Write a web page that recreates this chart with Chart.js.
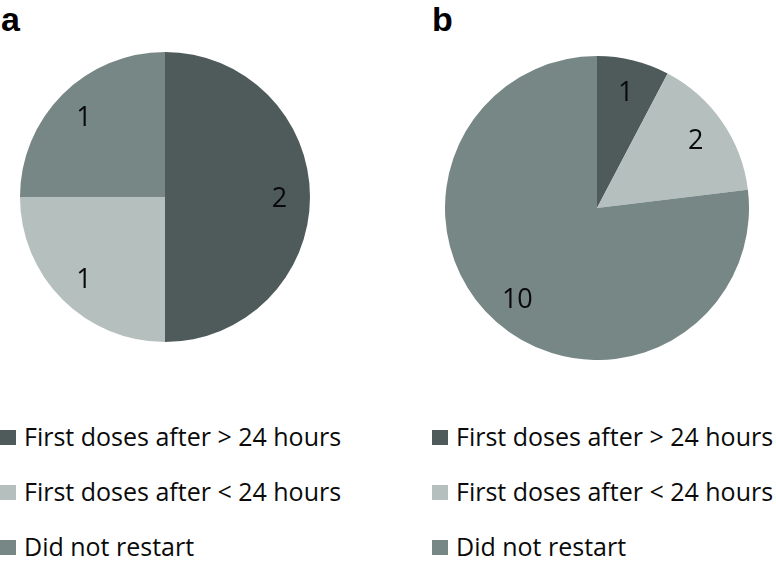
<!DOCTYPE html>
<html>
<head>
<meta charset="utf-8">
<script src="https://cdn.jsdelivr.net/npm/chart.js@4"></script>
<style>
  body { margin: 0; background: #fff; width: 776px; height: 568px; position: relative; overflow: hidden; font-family: "Open Sans", sans-serif; }
  .panel { position: absolute; font-family: "Liberation Sans", Arial, sans-serif; font-weight: bold; font-size: 34px; color: #000; }
  .pie { position: absolute; }
  .legend { position: absolute; }
  .item { position: absolute; left: 0; white-space: nowrap; font-size: 25px; color: #0a0a0a; height: 30px; line-height: 30px; }
  .box { position: absolute; left: 0; top: 8px; width: 16px; height: 15px; }
  .item span.t { position: absolute; left: 24px; top: -1px; }
</style>
</head>
<body>
<div class="panel" style="left:1px;top:0px">a</div>
<div class="panel" style="left:432px;top:0px">b</div>
<div class="pie" style="left:20px;top:52px;width:290px;height:290px"><canvas id="pieA"></canvas></div>
<div class="pie" style="left:445px;top:56px;width:304px;height:304px"><canvas id="pieB"></canvas></div>
<div class="legend" id="legA" style="left:0px;top:422px"></div>
<div class="legend" id="legB" style="left:432px;top:422px"></div>
<script>
const categories = ['First doses after > 24 hours', 'First doses after < 24 hours', 'Did not restart']
const valuesA = [2, 1, 1]
const valuesB = [1, 2, 10]
const colors = ['#4f5b5b', '#b5bfbe', '#778786']

// numbers inside the slices, placed ~79% out along the mid-angle
const sliceLabels = {
    id: 'sliceLabels',
    afterDatasetsDraw(chart) {
        const c = chart.ctx;
        const meta = chart.getDatasetMeta(0);
        c.save();
        c.font = '27px "Open Sans", sans-serif';
        c.fillStyle = '#0a0a0a';
        c.textAlign = 'center';
        c.textBaseline = 'middle';
        meta.data.forEach(function(arc, i) {
            const mid = (arc.startAngle + arc.endAngle) / 2;
            const r = arc.outerRadius * 0.79;
            c.fillText(chart.data.datasets[0].data[i], arc.x + Math.cos(mid) * r, arc.y + Math.sin(mid) * r + 2);
        });
        c.restore();
    }
};

function makePie(id, values) {
    return new Chart(document.getElementById(id), {
        type: 'pie',
        data: {
            labels: categories,
            datasets: [{
                data: values,
                backgroundColor: colors,
                borderWidth: 0,
            }]
        },
        options: {
            responsive: true,
            maintainAspectRatio: false,
            animation: false,
            layout: { padding: 0 },
            plugins: {
                legend: { display: false },
                tooltip: { enabled: false }
            }
        },
        plugins: [sliceLabels]
    });
}

makePie('pieA', valuesA);
makePie('pieB', valuesB);

function makeLegend(id) {
    const el = document.getElementById(id);
    categories.forEach(function(name, i) {
        const row = document.createElement('div');
        row.className = 'item';
        row.style.top = (i * 55) + 'px';
        row.innerHTML = '<div class="box" style="background:' + colors[i] + '"></div><span class="t">' + name + '</span>';
        el.appendChild(row);
    });
}
makeLegend('legA');
makeLegend('legB');
</script>
</body>
</html>
